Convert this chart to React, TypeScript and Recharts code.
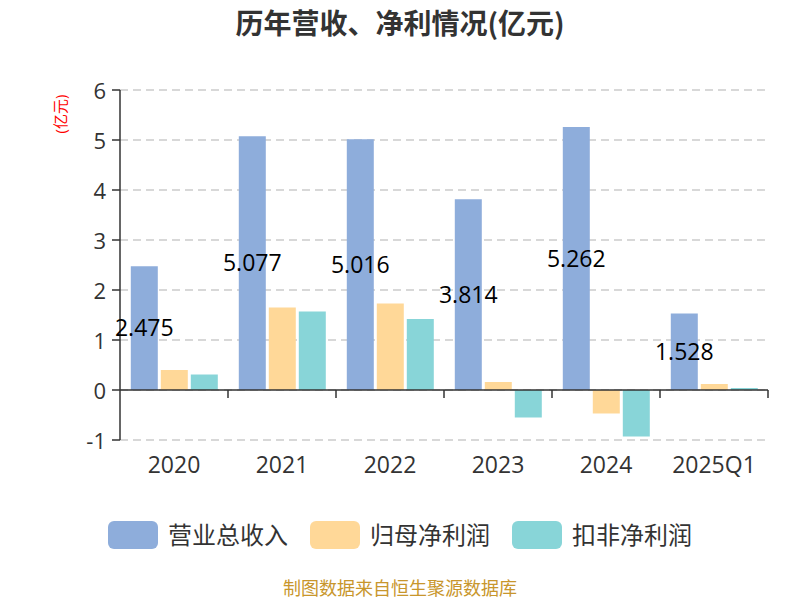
import React from 'react';
import { BarChart, Bar, XAxis, YAxis, CartesianGrid, ReferenceLine, LabelList } from 'recharts';

const categories = ['2020', '2021', '2022', '2023', '2024', '2025Q1'];
const revenue = [2.475, 5.077, 5.016, 3.814, 5.262, 1.528];
const netProfit = [0.4, 1.65, 1.73, 0.16, -0.47, 0.12];
const deductedProfit = [0.31, 1.57, 1.42, -0.55, -0.93, 0.04];
const yTicks = [-1, 0, 1, 2, 3, 4, 5, 6];
const seriesNames = ['营业总收入', '归母净利润', '扣非净利润'];
const seriesColors = ['#8EADDB', '#FFD898', '#88D5D8'];

const data = categories.map((c, i) => ({
  name: c,
  revenue: revenue[i],
  net: netProfit[i],
  deducted: deductedProfit[i],
}));

const FONT = '"Open Sans", "Noto Sans CJK SC", sans-serif';
const W = 800;
const H = 600;
const M = { top: 90, right: 32, left: 60, bottom: 110 };
const Y_AXIS_W = 60;
const X_AXIS_H = 50;
const plotLeft = M.left + Y_AXIS_W;
const plotW = W - plotLeft - M.right;
const plotTop = M.top;
const plotH = H - M.top - M.bottom - X_AXIS_H;
const yMin = yTicks[0];
const yMax = yTicks[yTicks.length - 1];
const zeroY = plotTop + ((yMax - 0) / (yMax - yMin)) * plotH;
const band = plotW / categories.length;

const XTick = (props: any) => {
  const { x, y, payload } = props;
  return (
    <g>
      <line x1={x + band / 2} x2={x + band / 2} y1={zeroY} y2={zeroY + 8} stroke="#333" strokeWidth={1.5} />
      <text x={x} y={y + 25} textAnchor="middle" fontSize={23} fill="#333" fontFamily={FONT}>
        {payload.value}
      </text>
    </g>
  );
};

const YTick = (props: any) => {
  const { x, y, payload } = props;
  return (
    <text x={x - 4} y={y} textAnchor="end" dominantBaseline="central" fontSize={22} fill="#333" fontFamily={FONT}>
      {payload.value}
    </text>
  );
};

const UnitLabel = (props: any) => {
  const vb = props.viewBox || { x: 60, y: 90 };
  const cx = vb.x;
  const cy = vb.y + 24;
  return (
    <text x={cx} y={cy} transform={`rotate(-90, ${cx}, ${cy})`} textAnchor="middle" dominantBaseline="central" fontSize={15} fill="#FF0000" fontFamily={FONT}>
      (亿元)
    </text>
  );
};

export default function App() {
  return (
    <div style={{ position: 'absolute', left: 0, top: 0, width: W, height: H, background: '#fff', fontFamily: FONT }}>
      <div style={{ position: 'absolute', top: 4, left: 0, width: W, textAlign: 'center', fontSize: 28, lineHeight: '36px', fontWeight: 'bold', color: '#333', fontFamily: '"Noto Sans CJK SC", sans-serif' }}>
        历年营收、净利情况(亿元)
      </div>
      <BarChart width={W} height={H} data={data} margin={M} barCategoryGap="10%" barGap={3}>
        <CartesianGrid vertical={false} stroke="#ccc" strokeDasharray="8 5" strokeWidth={1.5} />
        <XAxis dataKey="name" height={X_AXIS_H} axisLine={false} tickLine={false} tick={<XTick />} interval={0} />
        <YAxis
          width={Y_AXIS_W}
          domain={[yMin, yMax]}
          ticks={yTicks}
          interval={0}
          axisLine={{ stroke: '#333', strokeWidth: 1.5 }}
          tickLine={{ stroke: '#333', strokeWidth: 1.5 }}
          tickSize={8}
          tick={<YTick />}
          label={<UnitLabel />}
        />
        <ReferenceLine y={0} stroke="#333" strokeWidth={1.5} />
        <Bar dataKey="revenue" name={seriesNames[0]} fill={seriesColors[0]} isAnimationActive={false}>
          <LabelList dataKey="revenue" position="center" fill="#000" fontSize={23} fontFamily={FONT} />
        </Bar>
        <Bar dataKey="net" name={seriesNames[1]} fill={seriesColors[1]} isAnimationActive={false} />
        <Bar dataKey="deducted" name={seriesNames[2]} fill={seriesColors[2]} isAnimationActive={false} />
      </BarChart>
      <div style={{ position: 'absolute', top: 518, left: 0, width: W, display: 'flex', justifyContent: 'center', gap: 22 }}>
        {seriesNames.map((n, i) => (
          <div key={n} style={{ display: 'flex', alignItems: 'center' }}>
            <div style={{ width: 50, height: 28, borderRadius: 6, background: seriesColors[i], marginRight: 10 }} />
            <span style={{ fontSize: 24, lineHeight: '34px', color: '#333' }}>{n}</span>
          </div>
        ))}
      </div>
      <div style={{ position: 'absolute', top: 576, left: 0, width: W, textAlign: 'center', fontSize: 18, lineHeight: '24px', color: '#C8962C' }}>
        制图数据来自恒生聚源数据库
      </div>
    </div>
  );
}
